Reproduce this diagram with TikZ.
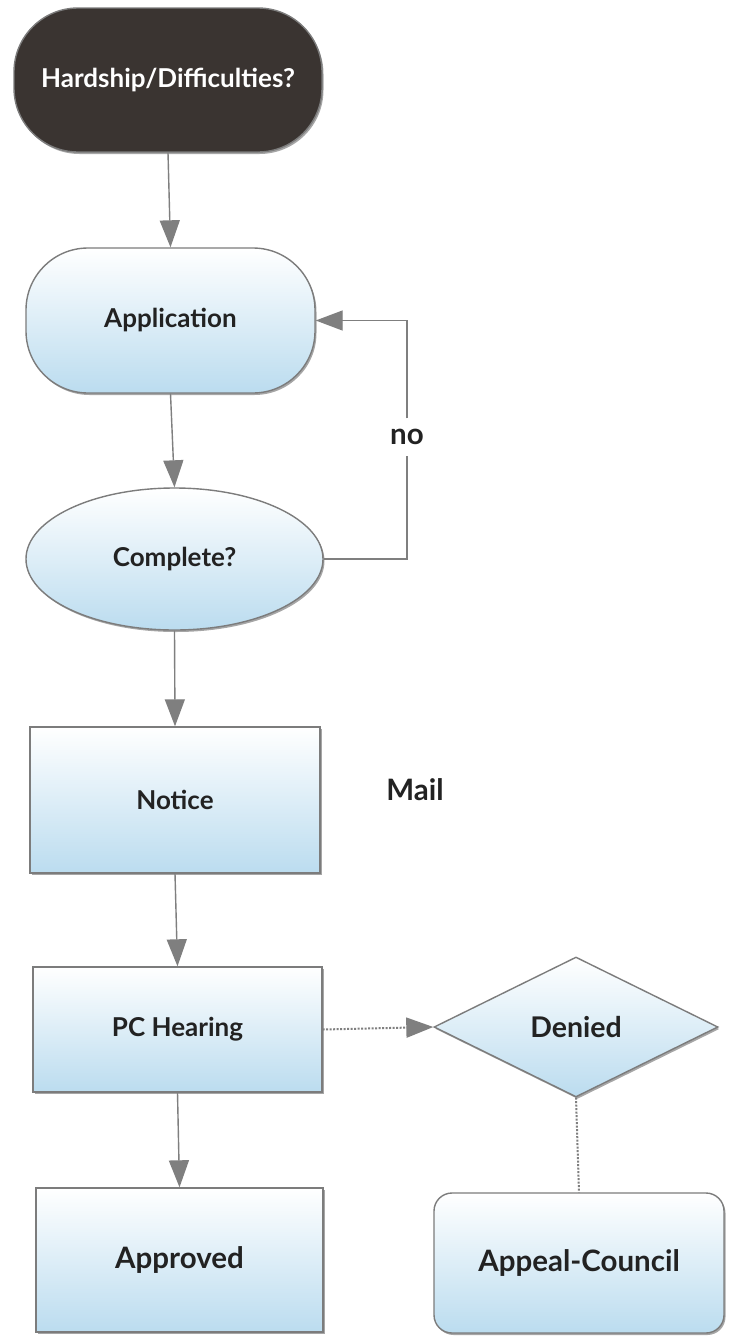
\documentclass[tikz,border=0pt]{standalone}
\usepackage{fontspec}
\setmainfont{Lato}
\usetikzlibrary{arrows.meta,shapes.geometric,shadows}

\definecolor{darkfill}{HTML}{3A3431}
\definecolor{edgegray}{HTML}{7C7C7C}
\definecolor{lightblue}{HTML}{BBDCEF}
\definecolor{arrowgray}{HTML}{7F7F7F}
\definecolor{inkblack}{HTML}{222222}

\tikzset{
  basebox/.style={draw=edgegray, line width=1.4pt, inner sep=0pt,
    font=\bfseries\fontsize{26}{30}\selectfont, text=inkblack,
    top color=white, bottom color=lightblue,
    drop shadow={shadow xshift=1.5pt, shadow yshift=-2pt, fill=black, opacity=0.35}},
  startbox/.style={draw=edgegray, line width=1.4pt, inner sep=0pt, fill=darkfill,
    rounded corners=64pt, minimum width=308pt, minimum height=144pt,
    font=\bfseries\fontsize{26}{30}\selectfont, text=white,
    drop shadow={shadow xshift=1.5pt, shadow yshift=-2pt, fill=black, opacity=0.35}},
  termbox/.style={basebox, rounded corners=62pt, minimum width=289pt, minimum height=145pt},
  decell/.style={basebox, ellipse, minimum width=297pt, minimum height=142pt},
  procbox/.style={basebox, rectangle, minimum width=289pt, minimum height=145pt},
  decdiamond/.style={basebox, diamond, minimum width=284pt, minimum height=140pt},
  roundbox/.style={basebox, rounded corners=18pt, minimum width=290pt, minimum height=140pt},
  bigtext/.style={font=\bfseries\fontsize{29.5}{34}\selectfont},
  plainlabel/.style={inner sep=0pt, bigtext, text=inkblack},
  flow/.style={draw=arrowgray, line width=1.4pt, -{Triangle[length=27pt,width=20pt]}},
  plainline/.style={draw=arrowgray, line width=1.4pt},
  dotflow/.style={draw=arrowgray, line width=2pt, dash pattern=on 2pt off 1.5pt, -{Triangle[length=27pt,width=20pt]}},
  dotline/.style={draw=arrowgray, line width=2pt, dash pattern=on 2pt off 1.5pt}
}

\begin{document}
\begin{tikzpicture}[x=1pt,y=-1pt]
  \useasboundingbox (0,0) rectangle (732,1336);
  \fill[white] (0,0) rectangle (732,1336);

  \node[startbox] (hard) at (168,80) {Hardship/Difficulties?};
  \node[termbox] (app) at (170.5,320.5) {Application};
  \node[decell] (comp) at (174.5,559) {Complete?};
  \node[procbox, minimum width=290pt, minimum height=146pt] (notice) at (175,800) {Notice};
  \node[procbox, minimum height=125pt] (pch) at (177.5,1029.5) {PC Hearing};
  \node[procbox, bigtext, minimum width=287pt, minimum height=144pt] (appr) at (179.5,1260) {Approved};
  \node[decdiamond, font=\bfseries\fontsize{28.5}{33}\selectfont] (den) at (576,1027) {Denied};
  \node[roundbox, bigtext] (appeal) at (579,1263) {Appeal-Council};

  \node[plainlabel] (mail) at (415,790) {Mail};
  \node[plainlabel, minimum height=37pt] (no) at (407,437) {no};

  \draw[flow] (hard.south) -- (app.north);
  \draw[flow] (app.south) -- (comp.north);
  \draw[flow] (comp.south) -- (notice.north);
  \draw[flow] (notice.south) -- (pch.north);
  \draw[flow] (pch.south) -- (appr.north);

  \draw[plainline] (comp.east) -| (no.south);
  \draw[flow] (no.north) |- (app.east);

  \draw[dotflow] (pch.east) -- (den.west);
  \draw[dotline] (den.south) -- (appeal.north);
\end{tikzpicture}
\end{document}
